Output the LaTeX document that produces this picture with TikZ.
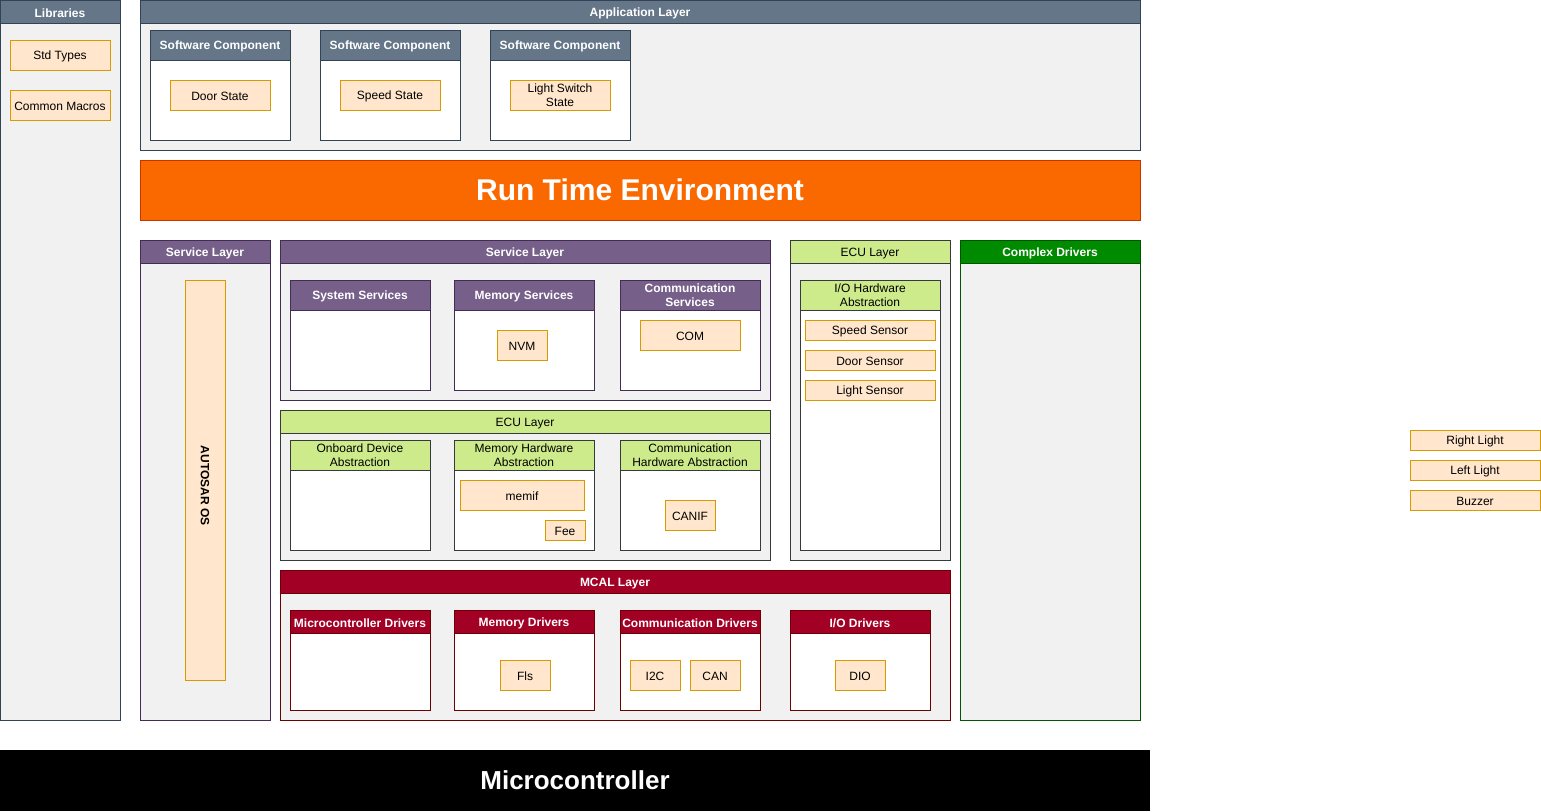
\documentclass[tikz,border=0pt]{standalone}
\usepackage{fontspec}
\setmainfont{Liberation Sans}

\definecolor{slateF}{HTML}{647687}
\definecolor{slateD}{HTML}{314354}
\definecolor{purpF}{HTML}{76608A}
\definecolor{purpD}{HTML}{432D57}
\definecolor{redF}{HTML}{A20025}
\definecolor{redD}{HTML}{6F0000}
\definecolor{greenF}{HTML}{008A00}
\definecolor{greenD}{HTML}{005700}
\definecolor{limeF}{HTML}{CDEB8B}
\definecolor{limeD}{HTML}{36393D}
\definecolor{orangeF}{HTML}{FA6800}
\definecolor{orangeD}{HTML}{C73500}
\definecolor{peachF}{HTML}{FFE6CC}
\definecolor{peachD}{HTML}{D79B00}
\definecolor{laneF}{HTML}{F1F1F1}

\begin{document}
\begin{tikzpicture}[x=1pt,y=-1pt,
  every node/.style={outer sep=0pt, inner sep=0pt, anchor=north west, line width=1pt,
    font=\fontsize{12}{14}\selectfont, align=center,
    execute at begin node={\rule{0pt}{11.5pt}}},
  sz/.style 2 args={minimum width=#1, minimum height=#2},
  lane/.style={draw=#1, fill=laneF},
  card/.style={draw=#1, fill=white},
  head/.style 2 args={draw=#2, fill=#1, text=white, font=\fontsize{12}{14}\selectfont\bfseries},
  limehead/.style={draw=limeD, fill=limeF, text=black},
  leaf/.style={draw=peachD, fill=peachF, text=black}]
  \useasboundingbox (0,0) rectangle (1541,811);

  % libraries
  \node[lane=slateD, sz={120}{720}] (lib) at (0,0) {};
  \node[head={slateF}{slateD}, sz={120}{23}] (libH) at (0,0) {Libraries};
  \node[leaf, sz={100}{30}] (stdtypes) at (10,40) {Std Types};
  \node[leaf, sz={100}{30}] (macros) at (10,90) {Common Macros};

  % application layer
  \node[lane=slateD, sz={1000}{150}] (app) at (140,0) {};
  \node[head={slateF}{slateD}, sz={1000}{23}] (appH) at (140,0) {Application Layer};
  \foreach \x/\nm/\txt in {150/door/Door State, 320/speed/Speed State, 490/light/{Light Switch\\State}} {
    \node[card=slateD, sz={140}{110}] (swc\nm) at (\x,30) {};
    \node[head={slateF}{slateD}, sz={140}{30}] (swc\nm H) at (\x,30) {Software Component};
    \node[leaf, sz={100}{30}] (st\nm) at (\x+20,80) {\txt};
  }

  % rte
  \node[draw=orangeD, fill=orangeF, text=white, font=\fontsize{30}{36}\selectfont\bfseries,
    sz={1000}{60}] (rte) at (140,160) {Run Time Environment};

  % os column
  \node[lane=purpD, sz={130}{480}] (svcL) at (140,240) {};
  \node[head={purpF}{purpD}, sz={130}{23}] (svcLH) at (140,240) {Service Layer};
  \node[leaf, sz={40}{400}, font=\fontsize{12}{14}\selectfont\bfseries] (os) at (185,280)
    {\rotatebox{-90}{AUTOSAR OS}};

  % service layer
  \node[lane=purpD, sz={490}{160}] (svc) at (280,240) {};
  \node[head={purpF}{purpD}, sz={490}{23}] (svcH) at (280,240) {Service Layer};
  \node[card=purpD, sz={140}{110}] (sys) at (290,280) {};
  \node[head={purpF}{purpD}, sz={140}{30}] (sysH) at (290,280) {System Services};
  \node[card=purpD, sz={140}{110}] (mems) at (454,280) {};
  \node[head={purpF}{purpD}, sz={140}{30}] (memsH) at (454,280) {Memory Services};
  \node[card=purpD, sz={140}{110}] (coms) at (620,280) {};
  \node[head={purpF}{purpD}, sz={140}{30}] (comsH) at (620,280) {Communication\\Services};
  \node[leaf, sz={50}{30}] (nvm) at (497,330) {NVM};
  \node[leaf, sz={100}{30}] (com) at (640,320) {COM};

  % ecu layer
  \node[lane=limeD, sz={490}{150}] (ecu) at (280,410) {};
  \node[limehead, sz={490}{23}] (ecuH) at (280,410) {ECU Layer};
  \node[card=limeD, sz={140}{110}] (obd) at (290,440) {};
  \node[limehead, sz={140}{30}] (obdH) at (290,440) {Onboard Device\\Abstraction};
  \node[card=limeD, sz={140}{110}] (memhw) at (454,440) {};
  \node[limehead, sz={140}{30}] (memhwH) at (454,440) {Memory Hardware\\Abstraction};
  \node[card=limeD, sz={140}{110}] (comhw) at (620,440) {};
  \node[limehead, sz={140}{30}] (comhwH) at (620,440) {Communication\\Hardware Abstraction};
  \node[leaf, sz={124}{30}] (memif) at (460,480) {memif};
  \node[leaf, sz={40}{20}] (fee) at (545,520) {Fee};
  \node[leaf, sz={50}{30}] (canif) at (665,500) {CANIF};

  % io hardware
  \node[lane=limeD, sz={160}{320}] (ecuR) at (790,240) {};
  \node[limehead, sz={160}{23}] (ecuRH) at (790,240) {ECU Layer};
  \node[card=limeD, sz={140}{270}] (iohw) at (800,280) {};
  \node[limehead, sz={140}{30}] (iohwH) at (800,280) {I/O Hardware\\Abstraction};
  \foreach \y/\nm/\txt in {320/speed/Speed Sensor, 350/door/Door Sensor, 380/light/Light Sensor}
    \node[leaf, sz={130}{20}] (sens\nm) at (805,\y) {\txt};

  % complex drivers
  \node[lane=greenD, sz={180}{480}] (cdd) at (960,240) {};
  \node[head={greenF}{greenD}, sz={180}{23}] (cddH) at (960,240) {Complex Drivers};

  % mcal
  \node[lane=redD, sz={670}{150}] (mcal) at (280,570) {};
  \node[head={redF}{redD}, sz={670}{23}] (mcalH) at (280,570) {MCAL Layer};
  \foreach \x/\nm/\txt in {290/mcu/Microcontroller Drivers, 454/mem/Memory Drivers,
      620/com/Communication Drivers, 790/io/{I/O Drivers}} {
    \node[card=redD, sz={140}{100}] (drv\nm) at (\x,610) {};
    \node[head={redF}{redD}, sz={140}{23}] (drv\nm H) at (\x,610) {\txt};
  }
  \node[leaf, sz={50}{30}] (fls) at (500,660) {Fls};
  \node[leaf, sz={50}{30}] (i2c) at (630,660) {I2C};
  \node[leaf, sz={50}{30}] (can) at (690,660) {CAN};
  \node[leaf, sz={50}{30}] (dio) at (835,660) {DIO};

  % loose parts
  \node[leaf, sz={130}{20}] (rlight) at (1410,430) {Right Light};
  \node[leaf, sz={130}{20}] (llight) at (1410,460) {Left Light};
  \node[leaf, sz={130}{20}] (buzzer) at (1410,490) {Buzzer};

  % hardware
  \node[fill=black, text=white, font=\fontsize{26}{31}\selectfont\bfseries,
    sz={1150}{61}] (mcu) at (0,750) {Microcontroller};
\end{tikzpicture}
\end{document}
